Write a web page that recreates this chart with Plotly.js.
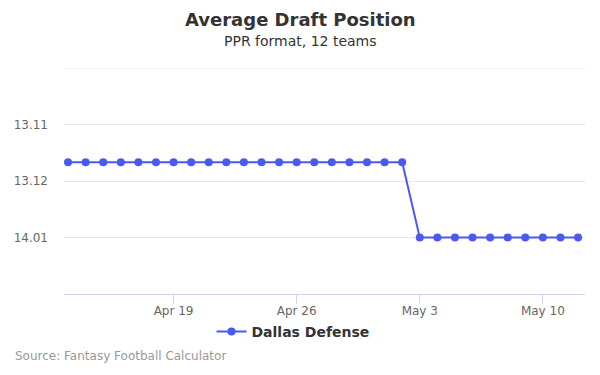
<!DOCTYPE html>
<html><head><meta charset="utf-8">
<script src="https://cdn.plot.ly/plotly-3.0.1.min.js"></script>
<style>body{margin:0}#c{width:600px;height:375px}</style>
</head><body><div id="c"></div>
<script>
const dates = ["2024-04-13","2024-04-14","2024-04-15","2024-04-16","2024-04-17","2024-04-18","2024-04-19","2024-04-20","2024-04-21","2024-04-22","2024-04-23","2024-04-24","2024-04-25","2024-04-26","2024-04-27","2024-04-28","2024-04-29","2024-04-30","2024-05-01","2024-05-02","2024-05-03","2024-05-04","2024-05-05","2024-05-06","2024-05-07","2024-05-08","2024-05-09","2024-05-10","2024-05-11","2024-05-12"];
const adp = [155.67,155.67,155.67,155.67,155.67,155.67,155.67,155.67,155.67,155.67,155.67,155.67,155.67,155.67,155.67,155.67,155.67,155.67,155.67,155.67,157,157,157,157,157,157,157,157,157,157];
const yTickVals = [155,156,157];
const yTickText = ["13.11","13.12","14.01"];
const yTopGrid = 154;
const xTickVals = ["2024-04-19","2024-04-26","2024-05-03","2024-05-10"];
const xTickText = ["Apr 19","Apr 26","May 3","May 10"];
const seriesName = "Dallas Defense";
const color = "#4a5af0";
const font = "DejaVu Sans, sans-serif";

const H = 375, W = 600, ML = 64, MR = 15, MT = 68, MB = 81;
const ph = H - MT - MB, pw = W - ML - MR;
const py = y => (H - MB - y) / ph;
const px = x => (x - ML) / pw;

Plotly.newPlot("c", [{
  x: dates, y: adp, type: "scatter", mode: "lines+markers", name: seriesName,
  line: {color: color, width: 2}, marker: {color: color, size: 8},
  hoverinfo: "skip"
}], {
  width: W, height: H,
  margin: {l: ML, r: MR, t: MT, b: MB},
  paper_bgcolor: "#fff", plot_bgcolor: "#fff",
  font: {family: font, color: "#666", size: 12},
  showlegend: true,
  legend: {orientation: "h", x: px(293), xanchor: "center", y: py(332), yanchor: "middle",
    bgcolor: "rgba(0,0,0,0)",
    font: {family: font, size: 14, color: "#333", weight: "bold"}},
  xaxis: {type: "date", range: ["2024-04-12T18:30", "2024-05-12T09:30"],
    tickvals: xTickVals, ticktext: xTickText, showgrid: false, zeroline: false,
    showline: true, linecolor: "#ccd6eb", linewidth: 1,
    ticks: "outside", ticklen: 9, tickcolor: "#ccd6eb", ticklabelstandoff: -3,
    tickfont: {size: 12, color: "#666"}},
  yaxis: {range: [158, 154], tickvals: yTickVals, ticktext: yTickText,
    showgrid: true, gridcolor: "#e6e6e6", zeroline: false, showline: false,
    ticks: "", ticklabelstandoff: 15, tickfont: {size: 12, color: "#666"}},
  shapes: [{type: "line", xref: "paper", yref: "y", x0: 0, x1: 1, y0: yTopGrid, y1: yTopGrid,
    line: {color: "#e6e6e6", width: 1}, layer: "below"}],
  annotations: [
    {text: "<b>Average Draft Position</b>", xref: "paper", yref: "paper", x: px(300), y: py(20), xanchor: "center", yanchor: "middle",
     showarrow: false, font: {family: font, size: 18, color: "#333"}},
    {text: "PPR format, 12 teams", xref: "paper", yref: "paper", x: px(300), y: py(41), xanchor: "center", yanchor: "middle", showarrow: false,
     font: {family: font, size: 14, color: "#333"}},
    {text: "Source: Fantasy Football Calculator", xref: "paper", yref: "paper", x: px(13), y: py(356), xanchor: "left", yanchor: "middle", showarrow: false,
     font: {family: font, size: 12, color: "#999"}}
  ]
}, {displayModeBar: false, staticPlot: true});
</script></body></html>
